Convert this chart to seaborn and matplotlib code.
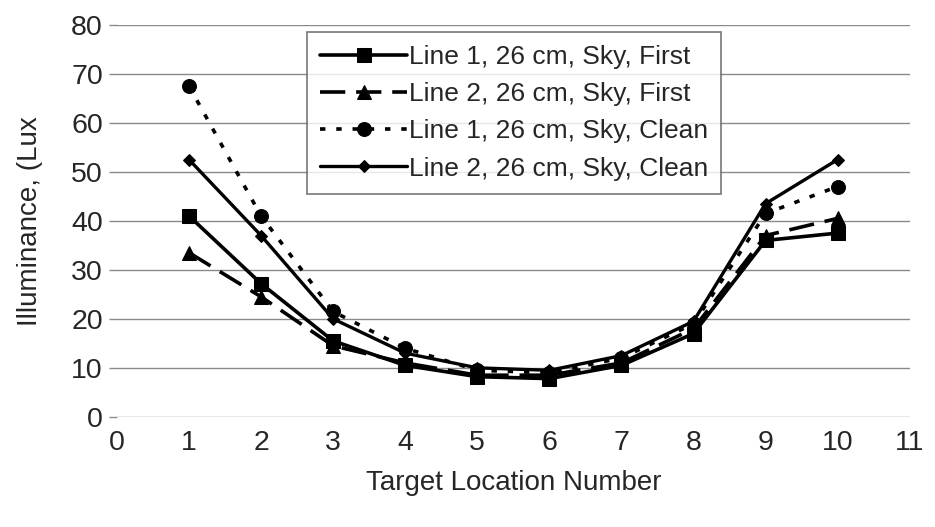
import seaborn as sns
import matplotlib.pyplot as plt
import pandas as pd

# data
locations = [1, 2, 3, 4, 5, 6, 7, 8, 9, 10]
line1_first = [41, 27.2, 15.5, 10.5, 8.2, 7.8, 10.5, 17, 36, 37.5]
line2_first = [33.5, 24.5, 14.5, 11, 8.5, 8.5, 11, 18, 37, 40.5]
line1_clean = [67.5, 41, 21.5, 14, 9.5, 9, 12, 19, 41.5, 47]
line2_clean = [52.5, 37, 20, 13, 10, 9.5, 12.5, 19.5, 43.5, 52.5]
labels = ["Line 1, 26 cm, Sky, First", "Line 2, 26 cm, Sky, First",
          "Line 1, 26 cm, Sky, Clean", "Line 2, 26 cm, Sky, Clean"]
x_ticks = list(range(0, 12))
y_ticks = list(range(0, 90, 10))

series = [line1_first, line2_first, line1_clean, line2_clean]
df = pd.DataFrame({
    "Location": locations * 4,
    "Lux": sum(series, []),
    "Series": [lab for lab in labels for _ in locations],
})

sns.set_style("white")
plt.rcParams["font.family"] = ["Liberation Sans", "DejaVu Sans"]

fig = plt.figure(figsize=(9.35, 5.27), dpi=100)
ax = fig.add_axes([0.125, 0.209, 0.848, 0.744])

styles = {
    labels[0]: dict(marker="s", ms=9.5, ls="-", lw=2.6),
    labels[1]: dict(marker="^", ms=9.5, ls=(0, (7, 3)), lw=2.6),
    labels[2]: dict(marker="o", ms=10, ls=(0, (1.5, 3)), lw=2.6),
    labels[3]: dict(marker="D", ms=6.5, ls="-", lw=2.4),
}

for lab in labels:
    st = styles[lab]
    sns.lineplot(data=df[df["Series"] == lab], x="Location", y="Lux", ax=ax,
                 color="black", marker=st["marker"], markersize=st["ms"],
                 linestyle=st["ls"], linewidth=st["lw"], label=lab,
                 markeredgecolor="black", zorder=3)

ax.set_xlim(0, 11)
ax.set_ylim(0, 80)
ax.set_xticks(x_ticks)
ax.set_yticks(y_ticks)
ax.yaxis.grid(True, color="#8a8a8a", linewidth=1.0)
ax.xaxis.grid(False)
for s in ax.spines.values():
    s.set_visible(False)
ax.tick_params(axis="y", left=True, length=6, width=1, color="#8a8a8a",
               labelsize=20.5, pad=4)
ax.tick_params(axis="x", bottom=False, labelsize=20.5, pad=6)
ax.set_xlabel("Target Location Number", fontsize=20, labelpad=10)
ax.set_ylabel("Illuminance, (Lux", fontsize=20, labelpad=20)

leg = ax.legend(loc="upper left", bbox_to_anchor=(0.24, 0.982), fontsize=19,
                frameon=True, fancybox=False, edgecolor="#555555",
                handlelength=3.3, handletextpad=0.05, labelspacing=0.5,
                borderpad=0.5, borderaxespad=0)
leg.get_frame().set_linewidth(1.2)
leg.set_zorder(5)

fig.savefig("out.png", dpi=100, facecolor="white")
